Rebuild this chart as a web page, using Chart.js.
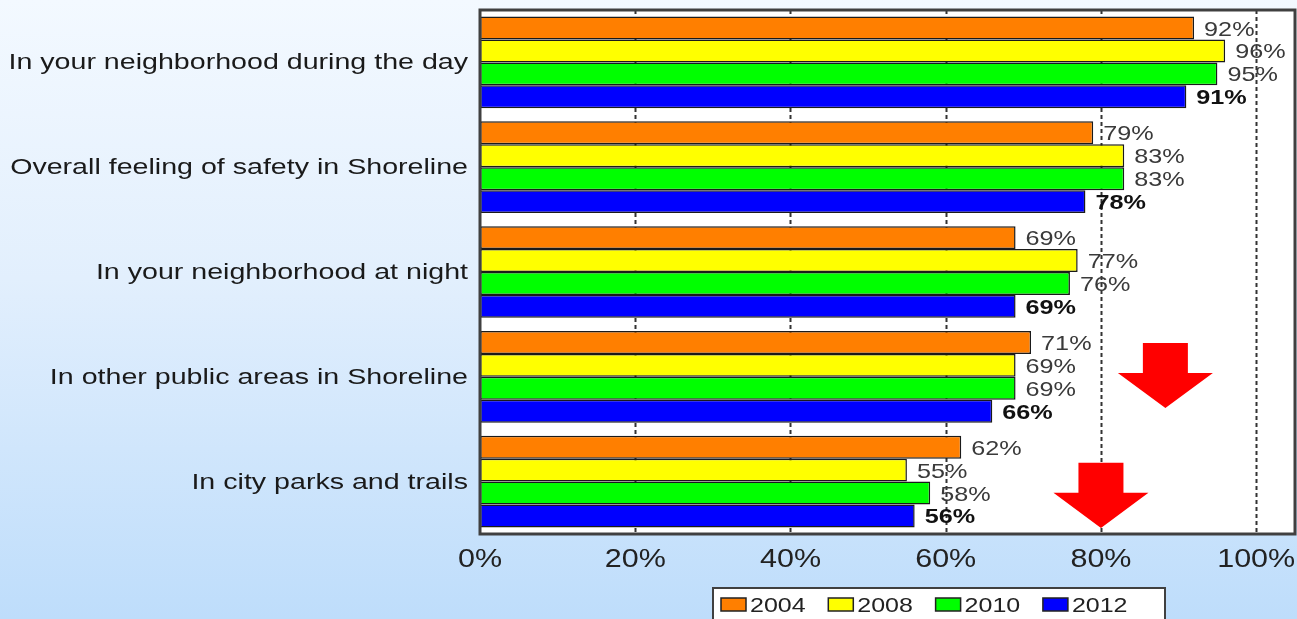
<!DOCTYPE html>
<html>
<head>
<meta charset="utf-8">
<script src="https://cdn.jsdelivr.net/npm/chart.js@4/dist/chart.umd.min.js"></script>
<style>
  html, body { margin: 0; padding: 0; }
  body { width: 1297px; height: 619px; overflow: hidden;
         background: linear-gradient(to bottom, #F3F9FF 0%, #E2EFFD 45%, #BEDDFB 100%); }
  #c { display: block; }
</style>
</head>
<body>
<canvas id="c" width="1297" height="619"></canvas>
<script>
// ---- data ----
const categories = [
  'In your neighborhood during the day',
  'Overall feeling of safety in Shoreline',
  'In your neighborhood at night',
  'In other public areas in Shoreline',
  'In city parks and trails'
];
const years = ['2004', '2008', '2010', '2012'];
const v2004 = [92, 79, 69, 71, 62];
const v2008 = [96, 83, 77, 69, 55];
const v2010 = [95, 83, 76, 69, 58];
const v2012 = [91, 78, 69, 66, 56];
const xTicks = [0, 20, 40, 60, 80, 100];
const xMax = 105;

// ---- styles ----
const colors = ['#FF7F00', '#FFFF00', '#00FF00', '#0000FF'];
const FONT = "'Liberation Sans', Arial, sans-serif";
// decorative down arrows: center value on x axis, top and tip in category units
const arrows = [
  { x: 88.3, top: 2.677, tip: 3.298 },
  { x: 80.0, top: 3.82, tip: 4.443 }
];

function sText(ctx, text, x, y, align, sx) {
  ctx.save();
  ctx.translate(x, y);
  ctx.scale(sx, 1);
  ctx.textAlign = align;
  ctx.fillText(text, 0, 0);
  ctx.restore();
}

const decor = {
  id: 'decor',
  beforeDatasetsDraw(chart) {
    const { ctx, chartArea: a, scales: { x } } = chart;
    ctx.save();
    ctx.fillStyle = '#FFFFFF';
    ctx.fillRect(a.left, a.top, a.right - a.left, a.bottom - a.top);
    ctx.strokeStyle = '#333';
    ctx.lineWidth = 2;
    ctx.setLineDash([4, 3]);
    xTicks.forEach(v => {
      if (v === 0) return;
      const px = Math.round(x.getPixelForValue(v)) + 0.5;
      ctx.beginPath();
      ctx.moveTo(px, a.top);
      ctx.lineTo(px, a.bottom);
      ctx.stroke();
    });
    ctx.restore();
  },
  afterDatasetsDraw(chart) {
    const { ctx, chartArea: a, scales: { x, y } } = chart;
    ctx.save();
    // frame
    ctx.strokeStyle = '#404040';
    ctx.lineWidth = 3;
    ctx.strokeRect(a.left, a.top, a.right - a.left, a.bottom - a.top);

    // value labels
    ctx.textBaseline = 'alphabetic';
    chart.data.datasets.forEach((ds, di) => {
      const meta = chart.getDatasetMeta(di);
      const bold = di === 3;
      ctx.font = (bold ? 'bold ' : '') + '21px ' + FONT;
      ctx.fillStyle = bold ? '#111' : '#3a3a3a';
      meta.data.forEach((bar, i) => {
        sText(ctx, Math.round(ds.data[i]) + '%', bar.x + 10, bar.y + 7.5, 'left', 1.2);
      });
    });

    // category labels
    ctx.font = '22px ' + FONT;
    ctx.fillStyle = '#1a1a1a';
    ctx.textBaseline = 'middle';
    categories.forEach((c, i) => {
      sText(ctx, c, 468, y.getPixelForValue(i) + 1, 'right', 1.3);
    });

    // x tick labels
    ctx.font = '25px ' + FONT;
    ctx.fillStyle = '#222';
    ctx.textBaseline = 'alphabetic';
    xTicks.forEach(v => {
      sText(ctx, v + '%', x.getPixelForValue(v), 567, 'center', 1.22);
    });

    // arrows
    ctx.fillStyle = '#FF0000';
    arrows.forEach(ar => {
      const cx = x.getPixelForValue(ar.x);
      const top = y.getPixelForValue(ar.top);
      const tip = y.getPixelForValue(ar.tip);
      const headTop = top + (tip - top) * 0.46;
      ctx.beginPath();
      ctx.moveTo(cx - 22.5, top);
      ctx.lineTo(cx + 22.5, top);
      ctx.lineTo(cx + 22.5, headTop);
      ctx.lineTo(cx + 47.5, headTop);
      ctx.lineTo(cx, tip);
      ctx.lineTo(cx - 47.5, headTop);
      ctx.lineTo(cx - 22.5, headTop);
      ctx.closePath();
      ctx.fill();
    });

    // legend
    const lx = 713, ly = 588, lw = 452;
    ctx.fillStyle = '#FFFFFF';
    ctx.fillRect(lx, ly, lw, 40);
    ctx.strokeStyle = '#404040';
    ctx.lineWidth = 2;
    ctx.strokeRect(lx, ly, lw, 40);
    ctx.font = '20px ' + FONT;
    chart.data.datasets.forEach((ds, di) => {
      const sx = 721 + di * 107.3;
      ctx.fillStyle = ds.backgroundColor;
      ctx.fillRect(sx, 598, 25, 13);
      ctx.strokeStyle = '#222';
      ctx.lineWidth = 1.5;
      ctx.strokeRect(sx, 598, 25, 13);
      ctx.fillStyle = '#222';
      sText(ctx, ds.label, sx + 29, 612, 'left', 1.25);
    });
    ctx.restore();
  }
};

const seriesValues = [v2004, v2008, v2010, v2012];
new Chart(document.getElementById('c'), {
  type: 'bar',
  data: {
    labels: categories,
    datasets: years.map((yr, i) => ({
      label: yr,
      data: seriesValues[i],
      backgroundColor: colors[i],
      borderColor: '#1a1a1a',
      borderWidth: 1.5,
      borderSkipped: false,
      categoryPercentage: 0.875,
      barPercentage: 1.0
    }))
  },
  options: {
    indexAxis: 'y',
    responsive: false,
    animation: false,
    events: [],
    layout: { padding: { top: 10, right: 2, left: 0, bottom: 0 } },
    plugins: { legend: { display: false }, tooltip: { enabled: false } },
    scales: {
      x: {
        min: 0, max: xMax,
        grid: { display: false },
        border: { display: false },
        ticks: { display: false },
        afterBuildTicks: s => { s.ticks = xTicks.map(v => ({ value: v })); },
        afterFit: s => { s.height = 85; }
      },
      y: {
        grid: { display: false },
        border: { display: false },
        ticks: { display: false },
        afterFit: s => { s.width = 480; }
      }
    }
  },
  plugins: [decor]
});
</script>
</body>
</html>
